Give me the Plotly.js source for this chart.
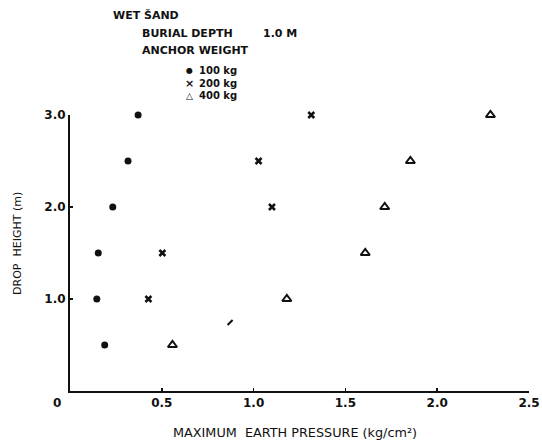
<!DOCTYPE html>
<html>
<head>
<meta charset="utf-8">
<script src="https://cdn.plot.ly/plotly-3.0.1.min.js"></script>
<style>html,body{margin:0;padding:0;background:#fff;}#chart{width:542px;height:442px;}</style>
</head>
<body>
<div id="chart"></div>
<script>
// Drop height (m)
const heights100 = [3.0, 2.5, 2.0, 1.5, 1.0, 0.5];
const pressure100 = [0.371, 0.316, 0.233, 0.154, 0.146, 0.189];
const heights200 = [3.0, 2.5, 2.0, 1.5, 1.0];
const pressure200 = [1.314, 1.027, 1.10, 0.503, 0.427];
const heights400 = [3.0, 2.5, 2.0, 1.5, 1.0, 0.5];
const pressure400 = [2.29, 1.854, 1.714, 1.608, 1.181, 0.558];
// stray mark on the original figure
const strayX = [0.872];
const strayY = [0.745];

const xTickVals = [0.5, 1.0, 1.5, 2.0, 2.5];
const xTickText = ['0.5', '1.0', '1.5', '2.0', '2.5'];
const yTickVals = [1.0, 2.0, 3.0];
const yTickText = ['1.0', '2.0', '3.0'];

const FONT = 'DejaVu Sans, sans-serif';
const INK = '#111';

const traces = [
  {x: pressure100, y: heights100, mode: 'markers', name: '100 kg', type: 'scatter', cliponaxis: false,
   marker: {symbol: 'circle', size: 7, color: INK}},
  {x: pressure200, y: heights200, mode: 'markers', name: '200 kg', type: 'scatter', cliponaxis: false,
   marker: {symbol: 'x-thin-open', size: 6, line: {width: 2.5, color: INK}, color: INK}},
  {x: pressure400, y: heights400, mode: 'markers', name: '400 kg', type: 'scatter', cliponaxis: false,
   marker: {symbol: 'triangle-up-open', size: 8, line: {width: 2, color: INK}, color: INK}},
  {x: strayX, y: strayY, mode: 'markers', name: 'mark', type: 'scatter', hoverinfo: 'skip', cliponaxis: false,
   marker: {symbol: 'line-ne-open', size: 5, line: {width: 2, color: INK}, color: INK}}
];

function px2x(px) { return (px - 70) / 458.5; }
function py2y(py) { return (391 - py) / 276; }
const ann = (text, px, py, anchor, size, weight) => ({
  text: text, xref: 'paper', yref: 'paper', x: px2x(px), y: py2y(py),
  xanchor: anchor || 'left', yanchor: 'middle', showarrow: false, borderpad: 0,
  font: {family: FONT, size: size || 11, color: INK, weight: weight || 'bold'}
});

const yTitle = ann('DROP  HEIGHT (m)', 17, 243, 'center', 11, 'normal');
yTitle.textangle = -90;

const layout = {
  width: 542, height: 442,
  margin: {l: 70, r: 13, t: 115, b: 51},
  paper_bgcolor: '#fff', plot_bgcolor: '#fff',
  showlegend: false,
  font: {family: FONT, color: INK},
  xaxis: {
    range: [0, 2.5], showgrid: false, zeroline: false,
    showline: true, linewidth: 2, linecolor: INK,
    ticks: 'inside', ticklen: 3, tickwidth: 1.5, tickcolor: INK,
    tickvals: xTickVals, ticktext: xTickText,
    tickfont: {family: FONT, size: 12, color: INK, weight: 'bold'}
  },
  yaxis: {
    range: [0, 3.0], showgrid: false, zeroline: false,
    showline: true, linewidth: 2, linecolor: INK,
    ticks: 'inside', ticklen: 3, tickwidth: 1.5, tickcolor: INK,
    tickvals: yTickVals, ticktext: yTickText,
    tickfont: {family: FONT, size: 12, color: INK, weight: 'bold'}
  },
  annotations: [
    ann('0', 57, 403, 'center', 12),
    ann('MAXIMUM  EARTH PRESSURE (kg/cm²)', 295, 432, 'center', 12.8, 'normal'),
    yTitle,
    ann('WET ŠAND', 112, 16),
    ann('BURIAL DEPTH', 141, 33),
    ann('1.0 M', 262, 33),
    ann('ANCHOR WEIGHT', 141, 50),
    ann('●', 189, 71, 'center', 8),
    ann('100 kg', 198, 71, 'left', 10),
    ann('×', 189, 83.5, 'center', 11),
    ann('200 kg', 198, 83.5, 'left', 10),
    ann('△', 189, 96, 'center', 9),
    ann('400 kg', 198, 96, 'left', 10)
  ]
};

Plotly.newPlot('chart', traces, layout, {staticPlot: true, displayModeBar: false});
</script>
</body>
</html>
